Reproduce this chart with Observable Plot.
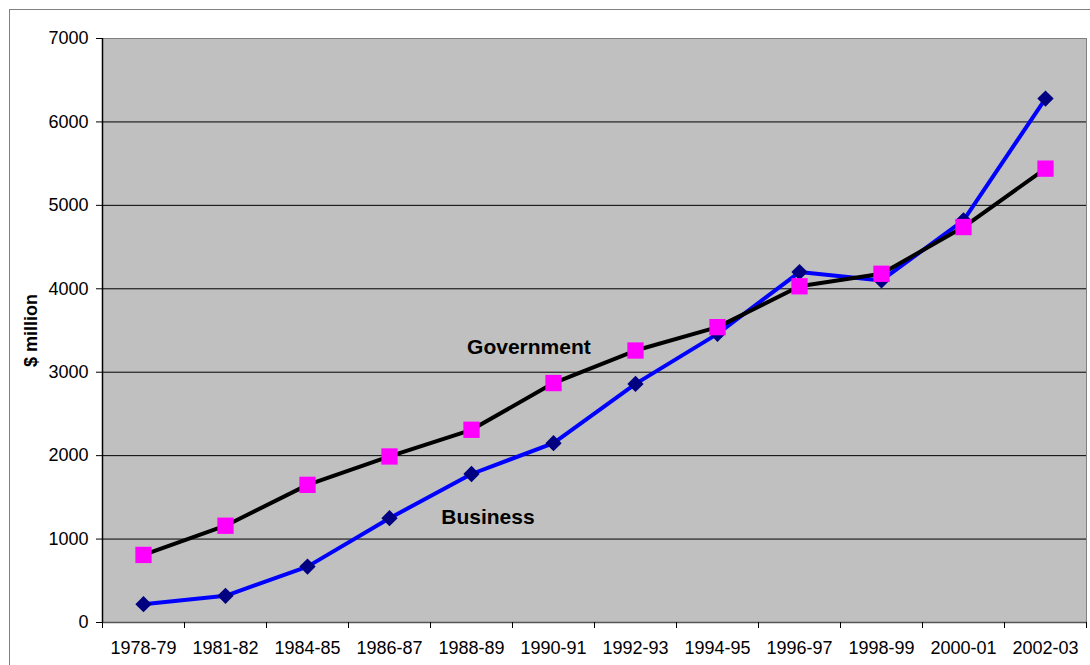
<!DOCTYPE html>
<html>
<head>
<meta charset="utf-8">
<script src="https://cdn.jsdelivr.net/npm/d3@7"></script>
<script src="https://cdn.jsdelivr.net/npm/@observablehq/plot@0.6"></script>
<style>
  html, body { margin: 0; padding: 0; background: #fff; overflow: hidden; }
  #wrap { position: relative; width: 1090px; height: 665px; }
  #frame { position: absolute; left: 9px; top: 9px; width: 1100px; height: 700px; border: 1px solid #808080; pointer-events: none; }
  svg { display: block; }
</style>
</head>
<body>
<div id="wrap"><div id="frame"></div></div>
<script>
const years = ["1978-79","1981-82","1984-85","1986-87","1988-89","1990-91","1992-93","1994-95","1996-97","1998-99","2000-01","2002-03"];
const business = [220, 320, 670, 1250, 1780, 2150, 2860, 3460, 4200, 4100, 4820, 6280];
const government = [810, 1160, 1650, 1990, 2310, 2870, 3260, 3540, 4030, 4180, 4740, 5440];
const yTicks = [0, 1000, 2000, 3000, 4000, 5000, 6000, 7000];
const seriesLabels = [
  {name: "Government", i: 4.7, v: 3215},
  {name: "Business", i: 4.2, v: 1175}
];

const idx = years.map((_, i) => i);
const bData = idx.map(i => ({i, v: business[i]}));
const gData = idx.map(i => ({i, v: government[i]}));
const bounds = d3.range(years.length + 1).map(k => k - 0.5);

const chart = Plot.plot({
  width: 1090,
  height: 665,
  marginLeft: 102,
  marginRight: 4,
  marginTop: 38,
  marginBottom: 43,
  style: {fontFamily: "'Liberation Sans', Arial, sans-serif", fontSize: "18px", color: "#000", background: "transparent"},
  x: {type: "linear", domain: [-0.5, years.length - 0.5]},
  y: {domain: [0, 7000]},
  marks: [
    Plot.frame({fill: "#c0c0c0", stroke: "#808080", strokeWidth: 1}),
    Plot.ruleY(yTicks.filter(t => t > 0 && t < 7000), {stroke: "#000", strokeWidth: 1}),
    Plot.ruleY([0], {stroke: "#555", strokeWidth: 1.5}),
    Plot.ruleX([-0.5], {stroke: "#000", strokeWidth: 1.5}),
    Plot.axisY({ticks: yTicks, tickSize: 6, tickPadding: 8, tickFormat: d => String(d), fontSize: 18, label: null, stroke: "#000"}),
    Plot.axisX({ticks: bounds, tickSize: 6, tickFormat: () => "", label: null, stroke: "#000"}),
    Plot.axisX({ticks: idx, tickSize: 0, tickPadding: 19, tickFormat: i => years[i], fontSize: 18, label: null}),
    Plot.text(["$ million"], {frameAnchor: "left", textAnchor: "middle", dx: -71, rotate: -90, fontWeight: "bold", fontSize: 18, text: d => d}),
    Plot.line(bData, {x: "i", y: "v", stroke: "#0000ff", strokeWidth: 4}),
    Plot.line(gData, {x: "i", y: "v", stroke: "#000", strokeWidth: 4}),
    Plot.dot(bData, {x: "i", y: "v", symbol: "square", r: 6.5, rotate: 45, fill: "#000080", stroke: "none"}),
    Plot.dot(gData, {x: "i", y: "v", symbol: "square", r: 9.2, fill: "#ff00ff", stroke: "none"}),
    Plot.text(seriesLabels, {x: "i", y: "v", text: "name", fontWeight: "bold", fontSize: 21, lineAnchor: "bottom", textAnchor: "middle"})
  ]
});
chart.style.position = "absolute";
chart.style.left = "0";
chart.style.top = "0";
document.getElementById("wrap").appendChild(chart);
</script>
</body>
</html>
